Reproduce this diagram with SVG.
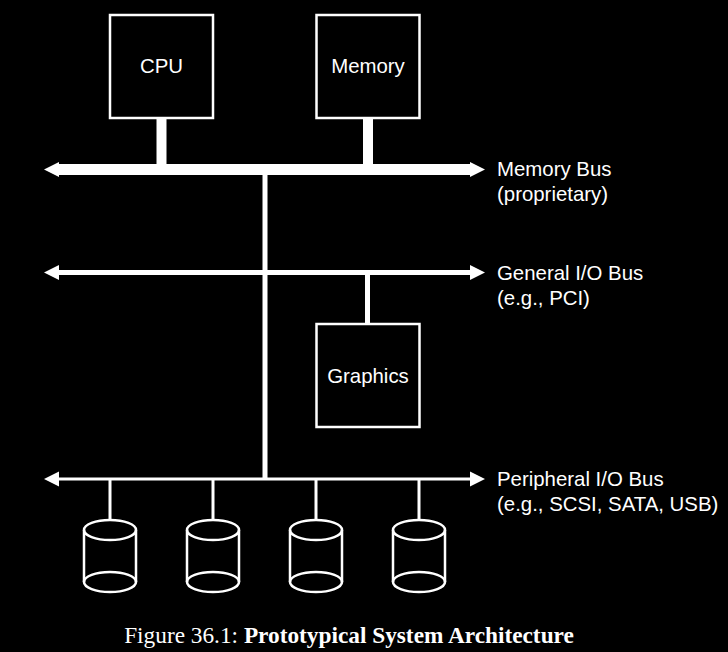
<svg xmlns="http://www.w3.org/2000/svg" xmlns:xlink="http://www.w3.org/1999/xlink" width="728" height="652" viewBox="0 0 728 652">
<style>
.box{fill:none;stroke:#fff;stroke-width:2.5}
.lbl{fill:#fff;font-family:"Liberation Sans",Arial,sans-serif;font-size:20.4px}
.bus{stroke:#fff;fill:none}
.cyl{fill:none;stroke:#fff;stroke-width:2.5}
.cap{fill:#fff;font-family:"Liberation Serif","Times New Roman",serif;font-size:23.3px}
</style>
<defs>
<polygon id="ahL" points="0,0 15,-7.5 15,7.5" fill="#fff"/>
<polygon id="ahR" points="0,0 -15,-7.5 -15,7.5" fill="#fff"/>
<g id="disk">
<path class="cyl" d="M-26,0 V52 M26,0 V52"/>
<ellipse class="cyl" cx="0" cy="0" rx="26" ry="10"/>
<ellipse class="cyl" cx="0" cy="52" rx="26" ry="10"/>
</g>
</defs>
<rect width="728" height="652" fill="#000"/>

<g id="connectors">
<line class="bus" x1="58" y1="169.5" x2="471" y2="169.5" stroke-width="11"/>
<use xlink:href="#ahL" x="44" y="169.5"/>
<use xlink:href="#ahR" x="485" y="169.5"/>
<line class="bus" x1="58" y1="272.5" x2="471" y2="272.5" stroke-width="5"/>
<use xlink:href="#ahL" x="44" y="272.5"/>
<use xlink:href="#ahR" x="485" y="272.5"/>
<line class="bus" x1="58" y1="479" x2="471" y2="479" stroke-width="3"/>
<use xlink:href="#ahL" x="44" y="479"/>
<use xlink:href="#ahR" x="485" y="479"/>
<line class="bus" x1="265" y1="174" x2="265" y2="479" stroke-width="5"/>
<line class="bus" x1="161.5" y1="118" x2="161.5" y2="165" stroke-width="10"/>
<line class="bus" x1="368" y1="118" x2="368" y2="165" stroke-width="10"/>
<line class="bus" x1="367.5" y1="274" x2="367.5" y2="324" stroke-width="5"/>
<line class="bus" x1="110" y1="479" x2="110" y2="520" stroke-width="3"/>
<line class="bus" x1="213" y1="479" x2="213" y2="520" stroke-width="3"/>
<line class="bus" x1="316" y1="479" x2="316" y2="520" stroke-width="3"/>
<line class="bus" x1="419" y1="479" x2="419" y2="520" stroke-width="3"/>
</g>

<g id="cpu">
<rect class="box" x="110" y="15" width="103" height="103"/>
<text class="lbl" x="161.5" y="73" text-anchor="middle">CPU</text>
</g>
<g id="memory">
<rect class="box" x="316.5" y="15" width="103" height="103"/>
<text class="lbl" x="368" y="73" text-anchor="middle">Memory</text>
</g>
<g id="graphics">
<rect class="box" x="316.5" y="324" width="103" height="103"/>
<text class="lbl" x="368" y="383" text-anchor="middle">Graphics</text>
</g>
<g id="disk1"><use xlink:href="#disk" x="110" y="530"/></g>
<g id="disk2"><use xlink:href="#disk" x="213" y="530"/></g>
<g id="disk3"><use xlink:href="#disk" x="316" y="530"/></g>
<g id="disk4"><use xlink:href="#disk" x="419" y="530"/></g>

<g id="memory-bus-label">
<text class="lbl" x="497" y="176">Memory Bus</text>
<text class="lbl" x="497" y="201">(proprietary)</text>
</g>
<g id="general-bus-label">
<text class="lbl" x="497" y="280">General I/O Bus</text>
<text class="lbl" x="497" y="305">(e.g., PCI)</text>
</g>
<g id="peripheral-bus-label">
<text class="lbl" x="497" y="486">Peripheral I/O Bus</text>
<text class="lbl" x="497" y="511">(e.g., SCSI, SATA, USB)</text>
</g>

<g id="caption">
<text class="cap" x="349" y="643" text-anchor="middle">Figure 36.1: <tspan font-weight="bold">Prototypical System Architecture</tspan></text>
</g>
</svg>
